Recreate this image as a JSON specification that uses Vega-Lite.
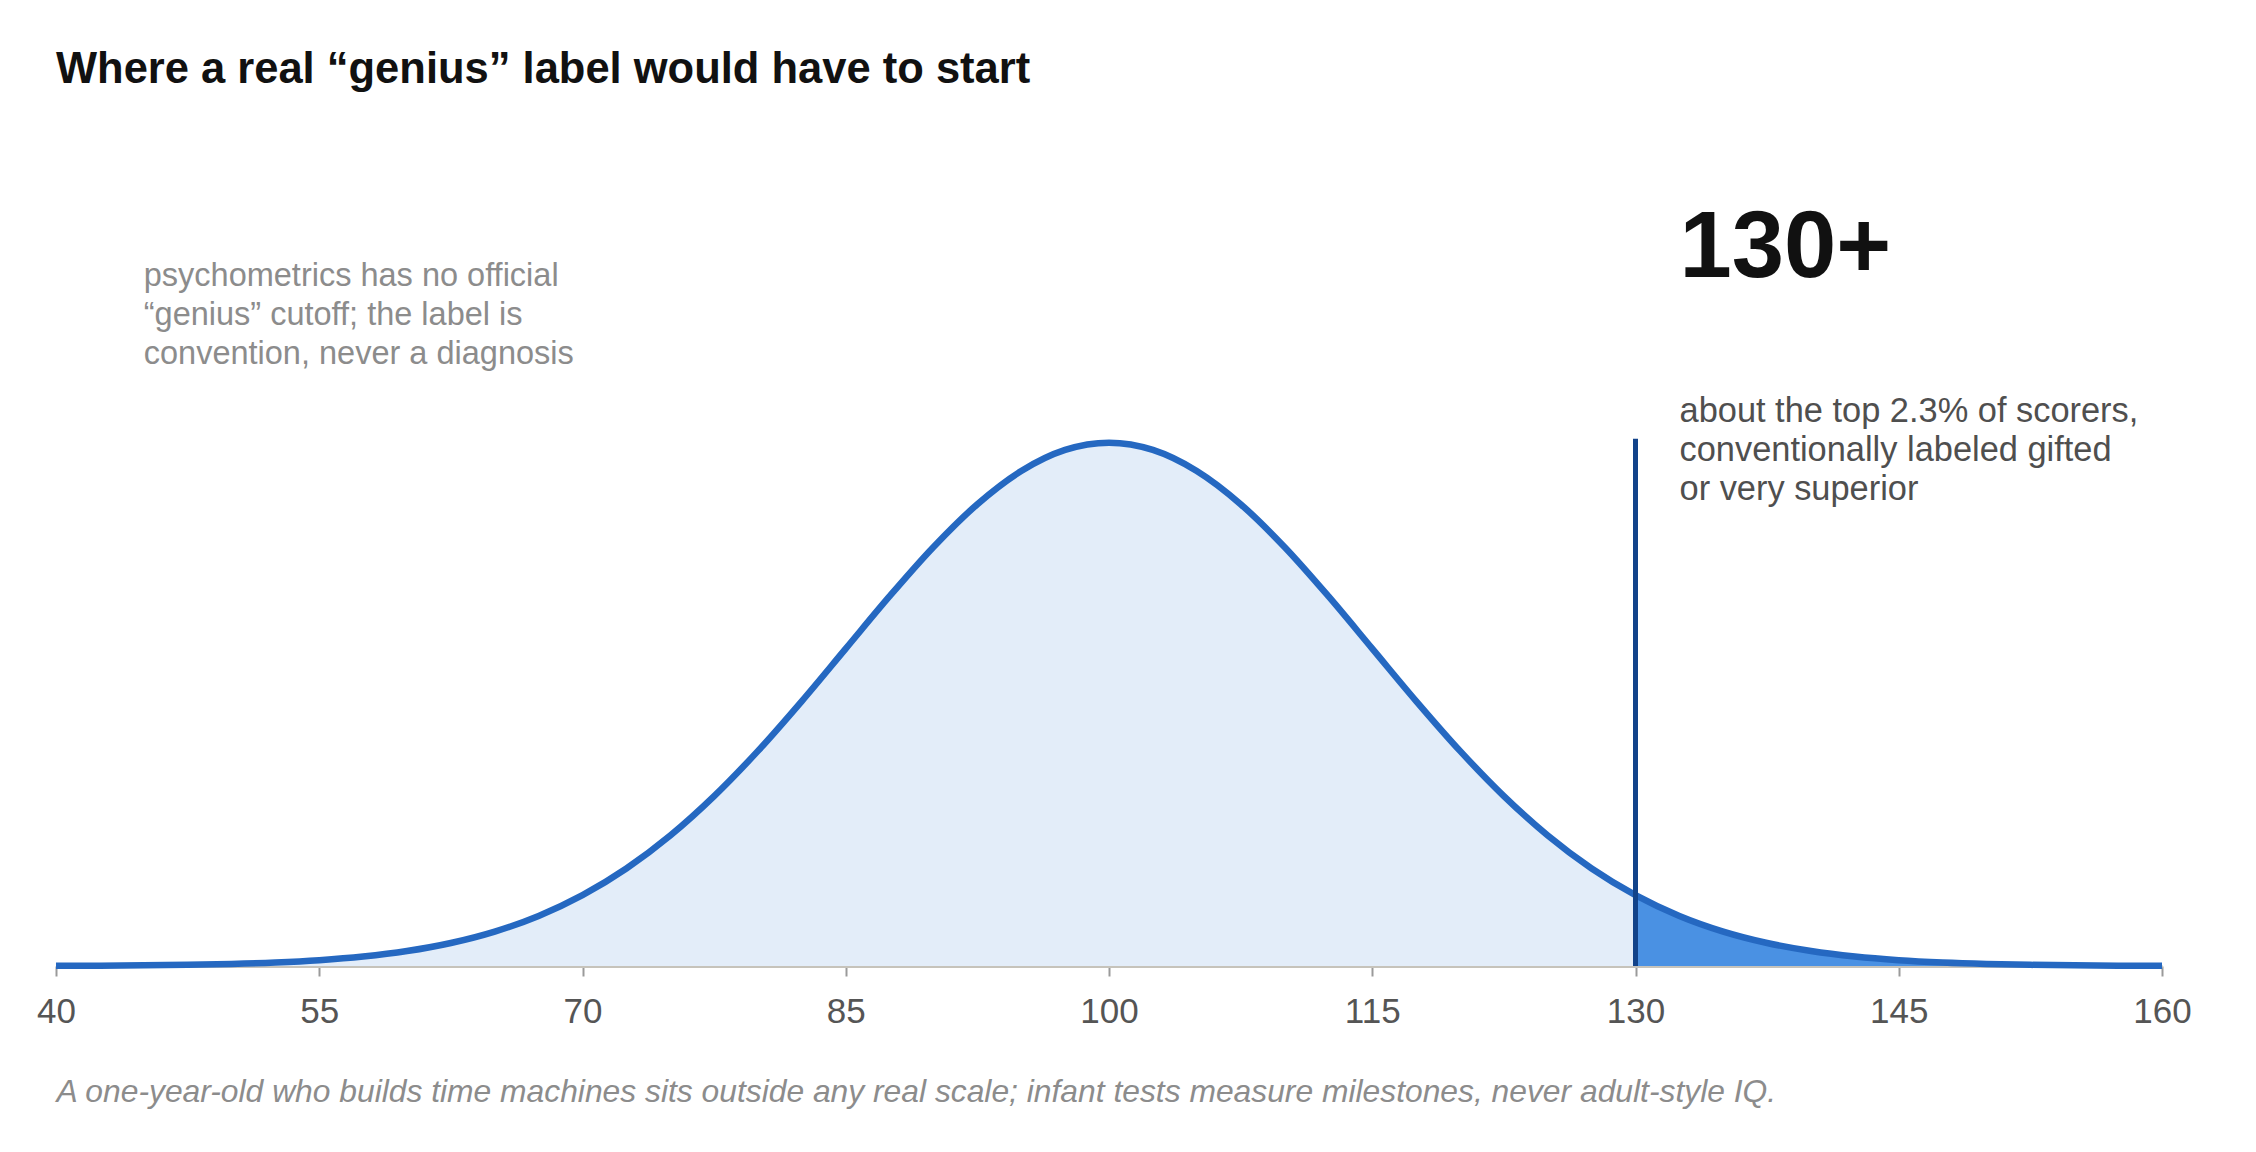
{
  "$schema": "https://vega.github.io/schema/vega-lite/v6.json",
  "autosize": {"type": "none"},
  "width": 2106,
  "height": 787,
  "padding": {"left": 56, "top": 179, "right": 94, "bottom": 186},
  "background": "#ffffff",
  "title": {
    "text": "Where a real “genius” label would have to start",
    "anchor": "start",
    "frame": "group",
    "offset": 87,
    "fontSize": 43.5,
    "fontWeight": "bold",
    "color": "#111111"
  },
  "config": {
    "font": "Liberation Sans",
    "view": {"stroke": null},
    "axis": {"grid": false}
  },
  "datasets": {
    "curve": [
      {"iq": 40, "density": 0.0000089},
      {"iq": 42.5, "density": 0.0000171},
      {"iq": 45, "density": 0.0000320},
      {"iq": 47.5, "density": 0.0000582},
      {"iq": 50, "density": 0.0001028},
      {"iq": 52.5, "density": 0.0001768},
      {"iq": 55, "density": 0.0002955},
      {"iq": 57.5, "density": 0.0004804},
      {"iq": 60, "density": 0.0007598},
      {"iq": 62.5, "density": 0.0011686},
      {"iq": 65, "density": 0.0017482},
      {"iq": 67.5, "density": 0.0025434},
      {"iq": 70, "density": 0.0035994},
      {"iq": 72.5, "density": 0.0049539},
      {"iq": 75, "density": 0.0066318},
      {"iq": 77.5, "density": 0.0086345},
      {"iq": 80, "density": 0.0109340},
      {"iq": 82.5, "density": 0.0134666},
      {"iq": 85, "density": 0.0161314},
      {"iq": 87.5, "density": 0.0187942},
      {"iq": 90, "density": 0.0212966},
      {"iq": 92.5, "density": 0.0234711},
      {"iq": 95, "density": 0.0251589},
      {"iq": 97.5, "density": 0.0262294},
      {"iq": 100, "density": 0.0265962},
      {"iq": 102.5, "density": 0.0262294},
      {"iq": 105, "density": 0.0251589},
      {"iq": 107.5, "density": 0.0234711},
      {"iq": 110, "density": 0.0212966},
      {"iq": 112.5, "density": 0.0187942},
      {"iq": 115, "density": 0.0161314},
      {"iq": 117.5, "density": 0.0134666},
      {"iq": 120, "density": 0.0109340},
      {"iq": 122.5, "density": 0.0086345},
      {"iq": 125, "density": 0.0066318},
      {"iq": 127.5, "density": 0.0049539},
      {"iq": 130, "density": 0.0035994},
      {"iq": 132.5, "density": 0.0025434},
      {"iq": 135, "density": 0.0017482},
      {"iq": 137.5, "density": 0.0011686},
      {"iq": 140, "density": 0.0007598},
      {"iq": 142.5, "density": 0.0004804},
      {"iq": 145, "density": 0.0002955},
      {"iq": 147.5, "density": 0.0001768},
      {"iq": 150, "density": 0.0001028},
      {"iq": 152.5, "density": 0.0000582},
      {"iq": 155, "density": 0.0000320},
      {"iq": 157.5, "density": 0.0000171},
      {"iq": 160, "density": 0.0000089}
    ],
    "cutoff": [{"iq": 130, "density": 0, "top": 0.0268}],
    "bigLabel": [{"iq": 130, "density": 0.03504, "label": "130+"}],
    "rightNote": [{"iq": 130, "density": 0.02766, "label": ["about the top 2.3% of scorers,", "conventionally labeled gifted", "or very superior"]}],
    "leftNote": [{"iq": 45, "density": 0.03458, "label": ["psychometrics has no official", "“genius” cutoff; the label is", "convention, never a diagnosis"]}]
  },
  "encoding": {
    "x": {
      "field": "iq",
      "type": "quantitative",
      "scale": {"domain": [40, 160], "nice": false, "zero": false},
      "axis": {
        "values": [40, 55, 70, 85, 100, 115, 130, 145, 160],
        "domainColor": "#c6c3bb",
        "domainWidth": 3,
        "tickColor": "#9a9a9a",
        "tickWidth": 2,
        "tickSize": 10,
        "labelFontSize": 35,
        "labelColor": "#555555",
        "labelBaseline": "alphabetic",
        "labelPadding": 46,
        "labelFlush": false,
        "labelOverlap": false,
        "title": "A one-year-old who builds time machines sits outside any real scale; infant tests measure milestones, never adult-style IQ.",
        "titleAnchor": "start",
        "titleAlign": "left",
        "titleBaseline": "alphabetic",
        "titleX": 0,
        "titleY": 135,
        "titleFontSize": 31.8,
        "titleFontStyle": "italic",
        "titleFontWeight": "normal",
        "titleColor": "#8c8c8c"
      }
    },
    "y": {
      "field": "density",
      "type": "quantitative",
      "scale": {"domain": [0, 0.04], "nice": false},
      "axis": null
    }
  },
  "layer": [
    {
      "data": {"name": "curve"},
      "mark": {"type": "area", "interpolate": "monotone", "color": "#e3edf9"}
    },
    {
      "data": {"name": "curve"},
      "transform": [{"filter": "datum.iq >= 130"}],
      "mark": {"type": "area", "interpolate": "monotone", "color": "#4a91e3"}
    },
    {
      "data": {"name": "curve"},
      "mark": {"type": "line", "interpolate": "monotone", "color": "#2568c1", "strokeWidth": 6.5}
    },
    {
      "data": {"name": "cutoff"},
      "mark": {"type": "rule", "color": "#12438a", "strokeWidth": 5},
      "encoding": {"y2": {"field": "top"}}
    },
    {
      "data": {"name": "bigLabel"},
      "mark": {"type": "text", "align": "left", "baseline": "alphabetic", "dx": 44, "fontSize": 94, "fontWeight": "bold", "color": "#111111"},
      "encoding": {"text": {"field": "label"}}
    },
    {
      "data": {"name": "rightNote"},
      "mark": {"type": "text", "align": "left", "baseline": "alphabetic", "dx": 44, "fontSize": 34.4, "lineHeight": 39, "color": "#4f4f4f"},
      "encoding": {"text": {"field": "label"}}
    },
    {
      "data": {"name": "leftNote"},
      "mark": {"type": "text", "align": "left", "baseline": "alphabetic", "fontSize": 32.5, "lineHeight": 39, "color": "#8c8c8c"},
      "encoding": {"text": {"field": "label"}}
    }
  ]
}
